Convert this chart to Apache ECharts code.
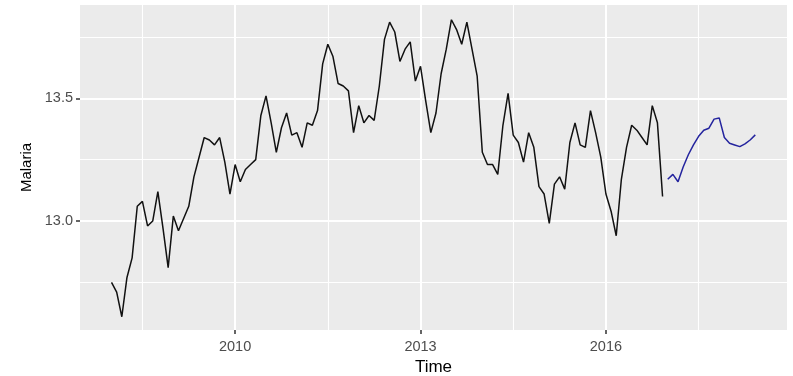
<!DOCTYPE html>
<html>
<head>
<meta charset="utf-8">
<script src="https://cdn.jsdelivr.net/npm/echarts@6/dist/echarts.min.js"></script>
<style>
  html, body { margin: 0; padding: 0; background: #fff; }
  #chart { width: 793px; height: 376px; }
</style>
</head>
<body>
<div id="chart"></div>
<script>
// monthly series, Jan 2008 .. Dec 2016
const startYear = 2008;
const observed = [
  12.75, 12.71, 12.61, 12.77, 12.85, 13.06, 13.08, 12.98, 13.00, 13.12, 12.97, 12.81,
  13.02, 12.96, 13.01, 13.06, 13.18, 13.26, 13.34, 13.33, 13.31, 13.34, 13.24, 13.11,
  13.23, 13.16, 13.21, 13.23, 13.25, 13.43, 13.51, 13.40, 13.28, 13.38, 13.44, 13.35,
  13.36, 13.30, 13.40, 13.39, 13.45, 13.64, 13.72, 13.67, 13.56, 13.55, 13.53, 13.36,
  13.47, 13.40, 13.43, 13.41, 13.55, 13.74, 13.81, 13.77, 13.65, 13.70, 13.73, 13.57,
  13.63, 13.49, 13.36, 13.44, 13.60, 13.70, 13.82, 13.78, 13.72, 13.81, 13.70, 13.59,
  13.28, 13.23, 13.23, 13.19, 13.39, 13.52, 13.35, 13.32, 13.24, 13.36, 13.30, 13.14,
  13.11, 12.99, 13.15, 13.18, 13.13, 13.32, 13.40, 13.31, 13.30, 13.45, 13.36, 13.26,
  13.11, 13.04, 12.94, 13.17, 13.30, 13.39, 13.37, 13.34, 13.31, 13.47, 13.40, 13.10
];
// forecast, Jan 2017 .. Jun 2018
const forecastStart = 2017;
const forecast = [
  13.17, 13.19, 13.16, 13.22, 13.27, 13.31, 13.345, 13.37, 13.378, 13.415,
  13.42, 13.34, 13.317, 13.31, 13.303, 13.314, 13.33, 13.351
];
const xTicks = [2010, 2013, 2016];
const xMinor = [2008.5, 2011.5, 2014.5, 2017.5];
const yTicks = [13.0, 13.5];
const yMinor = [12.75, 13.25, 13.75];

const toPairs = (start, vals) => vals.map((v, i) => [start + i / 12, v]);

const font = '"Liberation Sans", Arial, sans-serif';
const gridLine = (w) => ({ lineStyle: { color: '#ffffff', width: w, type: 'solid' } });

const gridMarks = []
  .concat(xMinor.map(v => Object.assign({ xAxis: v }, gridLine(1.1))))
  .concat(yMinor.map(v => Object.assign({ yAxis: v }, gridLine(1.1))))
  .concat(xTicks.map(v => Object.assign({ xAxis: v }, gridLine(2))))
  .concat(yTicks.map(v => Object.assign({ yAxis: v }, gridLine(2))));

const chart = echarts.init(document.getElementById('chart'));
chart.setOption({
  animation: false,
  backgroundColor: '#ffffff',
  textStyle: { fontFamily: font },
  grid: {
    left: 80, right: 6, top: 5, bottom: 46,
    outerBoundsMode: 'none',
    containLabel: false,
    show: true, backgroundColor: '#EBEBEB', borderWidth: 0
  },
  xAxis: {
    type: 'value',
    min: 2007.49,
    max: 2018.93,
    name: 'Time',
    nameLocation: 'middle',
    nameGap: 23,
    nameTextStyle: { color: '#000000', fontSize: 17, fontFamily: font },
    axisLine: { show: false },
    axisTick: { show: true, customValues: xTicks, length: 4, lineStyle: { color: '#333333', width: 1.5 } },
    axisLabel: {
      customValues: xTicks, color: '#4D4D4D', fontSize: 14.5, margin: 9, fontFamily: font,
      formatter: v => String(v)
    },
    splitLine: { show: false }
  },
  yAxis: {
    type: 'value',
    min: 12.556,
    max: 13.88,
    name: 'Malaria',
    nameLocation: 'middle',
    nameGap: 46,
    nameRotate: 90,
    nameTextStyle: { color: '#000000', fontSize: 15, fontFamily: font },
    axisLine: { show: false },
    axisTick: { show: true, customValues: yTicks, length: 4, lineStyle: { color: '#333333', width: 1.5 } },
    axisLabel: {
      customValues: yTicks, color: '#4D4D4D', fontSize: 14.5, margin: 7, fontFamily: font,
      formatter: v => v.toFixed(1)
    },
    splitLine: { show: false }
  },
  series: [
    {
      type: 'line',
      data: [],
      zlevel: 0,
      z: 1,
      silent: true,
      markLine: {
        silent: true,
        symbol: 'none',
        label: { show: false },
        animation: false,
        data: gridMarks
      }
    },
    {
      type: 'line',
      data: toPairs(startYear, observed),
      showSymbol: false,
      zlevel: 1,
      lineStyle: { color: '#111111', width: 1.5 }
    },
    {
      type: 'line',
      data: toPairs(forecastStart, forecast),
      showSymbol: false,
      zlevel: 1,
      lineStyle: { color: '#24249E', width: 1.5 }
    }
  ]
});
</script>
</body>
</html>
